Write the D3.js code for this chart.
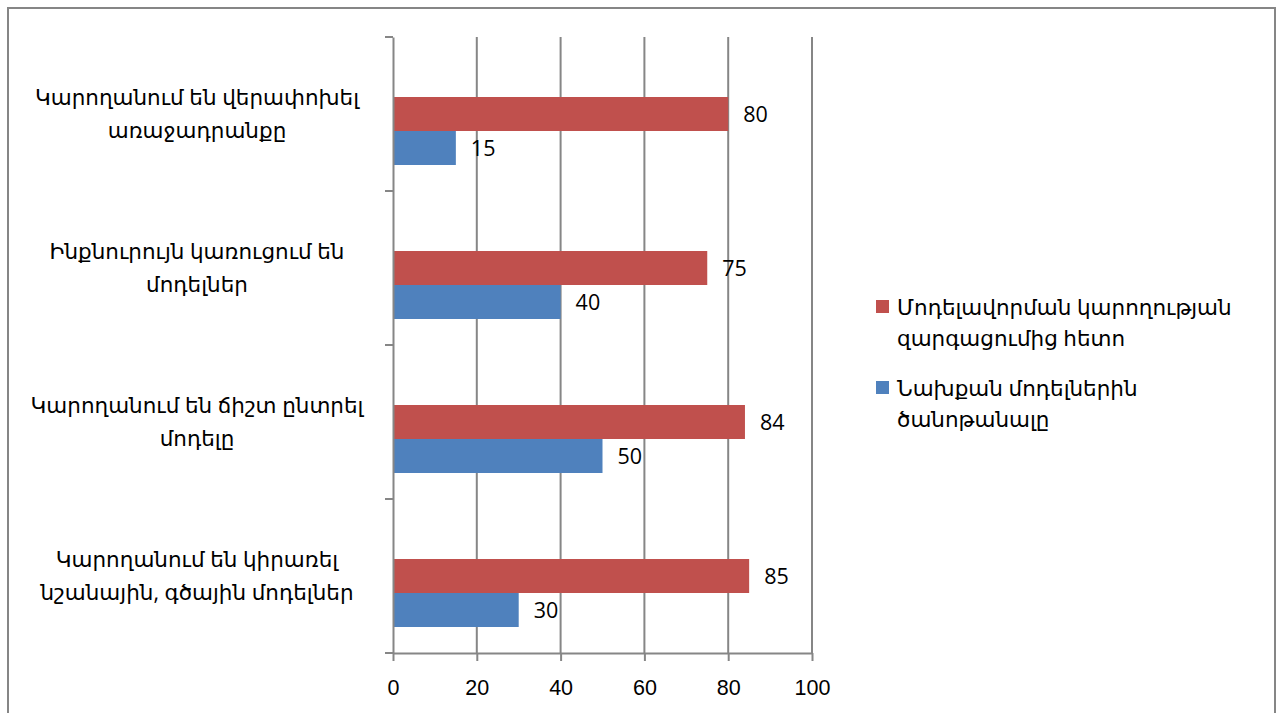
<!DOCTYPE html>
<html>
<head>
<meta charset="utf-8">
<script src="https://cdn.jsdelivr.net/npm/d3@7"></script>
<style>
  body { margin: 0; background: #fff; }
  svg { display: block; font-family: "Open Sans", "DejaVu Sans", sans-serif; }
</style>
</head>
<body>
<script>
const width = 1282;
const height = 713;
const margin = ({top: 37, right: 470, bottom: 60, left: 393});

// categories, top to bottom
const categories = [
    ["Կարողանում են վերափոխել", "առաջադրանքը"],
    ["Ինքնուրույն կառուցում են", "մոդելներ"],
    ["Կարողանում են ճիշտ ընտրել", "մոդելը"],
    ["Կարողանում են կիրառել", "նշանային, գծային մոդելներ"]
];
const seriesNames = [
    ["Մոդելավորման կարողության", "զարգացումից հետո"],
    ["Նախքան մոդելներին", "ծանոթանալը"]
];
const afterValues = [80, 75, 84, 85];
const beforeValues = [15, 40, 50, 30];
const xTicks = [0, 20, 40, 60, 80, 100];
const colors = ["#C0504D", "#4F81BD"];

const catKeys = categories.map(c => c.join(" "));
const seriesKeys = ["after", "before"];

let data = catKeys.map((k, i) => ({key: k, after: afterValues[i], before: beforeValues[i]}));

const svg = d3.select("body")
    .append("svg")
    .attr("width", width)
    .attr("height", height);

// outer frame (no bottom edge)
svg.append("path")
    .attr("d", `M8,${height} V8 H1275 V${height}`)
    .attr("fill", "none")
    .attr("stroke", "#868686")
    .attr("stroke-width", 2);

const x = d3.scaleLinear()
    .domain([0, 100])
    .range([margin.left, 812]);

const y0 = d3.scaleBand()
    .domain(catKeys)
    .range([margin.top, height - margin.bottom])
    .padding(0);

// bars sit a bit low inside each band, like the original
const y1 = d3.scaleBand()
    .domain(seriesKeys)
    .range([60, 128]);

const color = d3.scaleOrdinal().domain(seriesKeys).range(colors);

const plotBottom = height - margin.bottom;
const fs = 21.5;

// vertical gridlines
svg.append("g")
    .selectAll("line")
    .data(xTicks.slice(1))
    .join("line")
    .attr("x1", d => x(d))
    .attr("x2", d => x(d))
    .attr("y1", margin.top)
    .attr("y2", plotBottom)
    .attr("stroke", "#868686")
    .attr("stroke-width", 2);

// bars
const groups = svg.append("g")
    .selectAll("g")
    .data(data)
    .join("g")
    .attr("transform", d => `translate(0,${y0(d.key)})`);

groups.selectAll("rect")
    .data(d => seriesKeys.map(s => ({key: s, value: d[s]})))
    .join("rect")
    .attr("x", x(0))
    .attr("y", d => y1(d.key))
    .attr("width", d => x(d.value) - x(0))
    .attr("height", y1.bandwidth())
    .attr("fill", d => color(d.key));

groups.selectAll("text")
    .data(d => seriesKeys.map(s => ({key: s, value: d[s]})))
    .join("text")
    .attr("x", d => x(d.value) + 15)
    .attr("y", d => y1(d.key) + y1.bandwidth() / 2)
    .attr("dy", "0.35em")
    .attr("font-size", fs)
    .attr("fill", "#000")
    .text(d => d.value);

// x axis
const xAxis = svg.append("g")
    .attr("transform", `translate(0,${plotBottom})`)
    .call(d3.axisBottom(x).tickValues(xTicks).tickSize(8).tickSizeOuter(0).tickPadding(19));
xAxis.select(".domain").attr("stroke", "#868686").attr("stroke-width", 2);
xAxis.selectAll(".tick line").attr("stroke", "#868686").attr("stroke-width", 2);
xAxis.selectAll(".tick text").attr("font-size", fs).attr("fill", "#000");

// y axis
const yAxis = svg.append("g")
    .attr("transform", `translate(${x(0)},0)`)
    .call(d3.axisLeft(y0).tickValues([]).tickSizeOuter(0));
yAxis.select(".domain").attr("stroke", "#868686").attr("stroke-width", 2);

// boundary ticks between categories
const bounds = catKeys.map(k => y0(k)).concat([plotBottom]);
svg.append("g")
    .selectAll("line")
    .data(bounds)
    .join("line")
    .attr("x1", x(0) - 8)
    .attr("x2", x(0))
    .attr("y1", d => d)
    .attr("y2", d => d)
    .attr("stroke", "#868686")
    .attr("stroke-width", 2);

// category labels
svg.append("g")
    .selectAll("text")
    .data(categories)
    .join("text")
    .attr("text-anchor", "middle")
    .attr("font-size", fs)
    .attr("fill", "#000")
    .attr("transform", (d, i) => `translate(197,${y0(catKeys[i]) + y0.bandwidth() / 2})`)
    .selectAll("tspan")
    .data(d => d)
    .join("tspan")
    .attr("x", 0)
    .attr("y", (d, i) => (i - 0.5) * 33)
    .attr("dy", "0.35em")
    .text(d => d);

// legend
const legend = svg.append("g")
    .attr("transform", "translate(876,300)")
    .selectAll("g")
    .data(seriesNames)
    .join("g")
    .attr("transform", (d, i) => `translate(0,${i * 81})`);

legend.append("rect")
    .attr("width", 13)
    .attr("height", 13)
    .attr("fill", (d, i) => colors[i]);

legend.append("text")
    .attr("font-size", fs)
    .attr("fill", "#000")
    .selectAll("tspan")
    .data(d => d)
    .join("tspan")
    .attr("x", 21)
    .attr("y", (d, i) => 7 + i * 31)
    .attr("dy", "0.35em")
    .text(d => d);
</script>
</body>
</html>
